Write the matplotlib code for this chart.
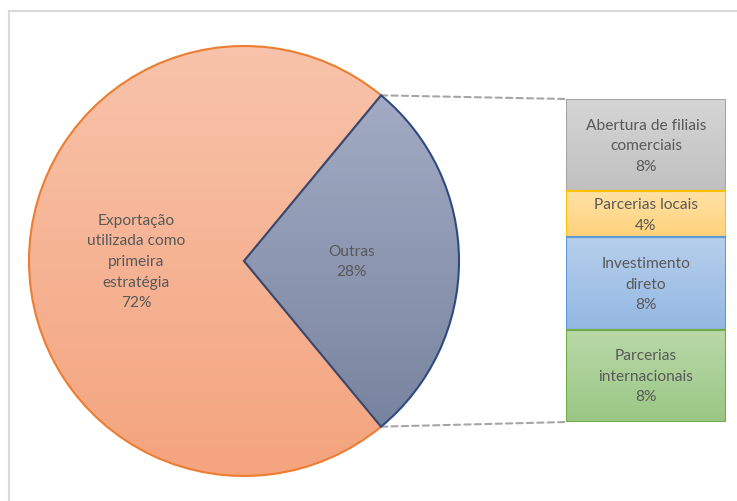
import numpy as np
import matplotlib
matplotlib.use('Agg')
import matplotlib.pyplot as plt
from matplotlib.colors import LinearSegmentedColormap
from matplotlib.patches import ConnectionPatch
from matplotlib.lines import Line2D

# data
pie_labels = ['Exportação\nutilizada como\nprimeira\nestratégia', 'Outras']
pie_values = [72, 28]
bar_labels = ['Abertura de filiais\ncomerciais', 'Parcerias locais',
              'Investimento\ndireto', 'Parcerias\ninternacionais']
bar_values = [8, 4, 8, 8]

pie_cols = [('#F8C3AA', '#F4A47E', '#ED7D31'), ('#A3ABC4', '#78849F', '#2F4A7D')]
bar_cols = [('#D6D6D6', '#C0C0C0', '#A5A5A5'), ('#FFE2A6', '#FFD27C', '#FFC000'),
            ('#B7CFEC', '#93B7E2', '#5B9BD5'), ('#B9D8A9', '#9AC784', '#70AD47')]
txt = '#595959'
plt.rcParams['font.family'] = ['Lato', 'DejaVu Sans']
fs = 11.2
lsp = 1.6

W, H = 737, 502
fig = plt.figure(figsize=(W / 100, H / 100), dpi=100)
ax = fig.add_axes([0, 0, 1, 1])

def grad_fill(a, patch, top, bottom, flip=False):
    cm = LinearSegmentedColormap.from_list('g', [bottom, top])
    bb = patch.get_path().transformed(patch.get_patch_transform()).get_extents()
    arr = np.linspace(0, 1, 100).reshape(-1, 1)
    if flip:
        arr = arr[::-1]
    img = a.imshow(arr, cmap=cm, origin='lower',
                   extent=[bb.x0, bb.x1, bb.y0, bb.y1], aspect='auto', zorder=1,
                   interpolation='bicubic')
    img.set_clip_path(patch)

# pie
cx, cy, r = 244, 240, 215
start = -pie_values[1] / sum(pie_values) * 180
wedges, _ = ax.pie(pie_values[::-1], center=(cx, cy), radius=r, startangle=start,
                   counterclock=True, labels=None,
                   wedgeprops=dict(linewidth=1.5))
for i, (w, (top, bot, edge)) in enumerate(zip(wedges, pie_cols[::-1])):
    w.set_facecolor('none')
    w.set_edgecolor(edge)
    w.set_zorder(3 - i)
    grad_fill(ax, w, top, bot)

for w, lab, v in zip(wedges, pie_labels[::-1], pie_values[::-1]):
    mid = np.deg2rad((w.theta1 + w.theta2) / 2)
    d = 0.5 * r
    ax.text(cx + d * np.cos(mid), cy + d * np.sin(mid), f'{lab}\n{v}%',
            ha='center', va='center', color=txt, fontsize=fs, linespacing=lsp, zorder=4)

ax.set_xlim(0, W)
ax.set_ylim(0, H)
ax.set_aspect('auto')
ax.axis('off')

# bar of pie
bx = fig.add_axes([566 / W, (H - 423) / H, 160 / W, 323 / H])
bottoms = np.cumsum([0] + bar_values[:-1])
bars = bx.bar(0, bar_values, bottom=bottoms, width=1, facecolor='none', linewidth=1.5, zorder=2)
for b, (top, bot, edge) in zip(bars, bar_cols):
    b.set_edgecolor(edge)
    grad_fill(bx, b, top, bot, flip=True)
for b, lab, v in zip(bars, bar_labels, bar_values):
    bx.text(0, b.get_y() + b.get_height() / 2, f'{lab}\n{v}%', ha='center', va='center',
            color=txt, fontsize=fs, linespacing=lsp, zorder=3)
bx.set_xlim(-0.5, 0.5)
bx.set_ylim(sum(bar_values), 0)
bx.axis('off')

# connectors
ang = np.deg2rad(-start)
for sgn, yb in [(1, 0), (-1, sum(bar_values))]:
    p = (cx + r * np.cos(ang), cy + sgn * r * np.sin(ang))
    con = ConnectionPatch(xyA=p, coordsA=ax.transData, xyB=(-0.5, yb), coordsB=bx.transData,
                          color='#A6A6A6', lw=1.5, ls=(0, (3, 2)), zorder=0)
    fig.add_artist(con)

# chart frame
fig.add_artist(Line2D([9 / W, 1], [1 - 12 / H, 1 - 12 / H], color='#D9D9D9', lw=1.5))
fig.add_artist(Line2D([9 / W, 9 / W], [0, 1 - 12 / H], color='#D9D9D9', lw=1.5))

fig.savefig('out.png', dpi=100)
